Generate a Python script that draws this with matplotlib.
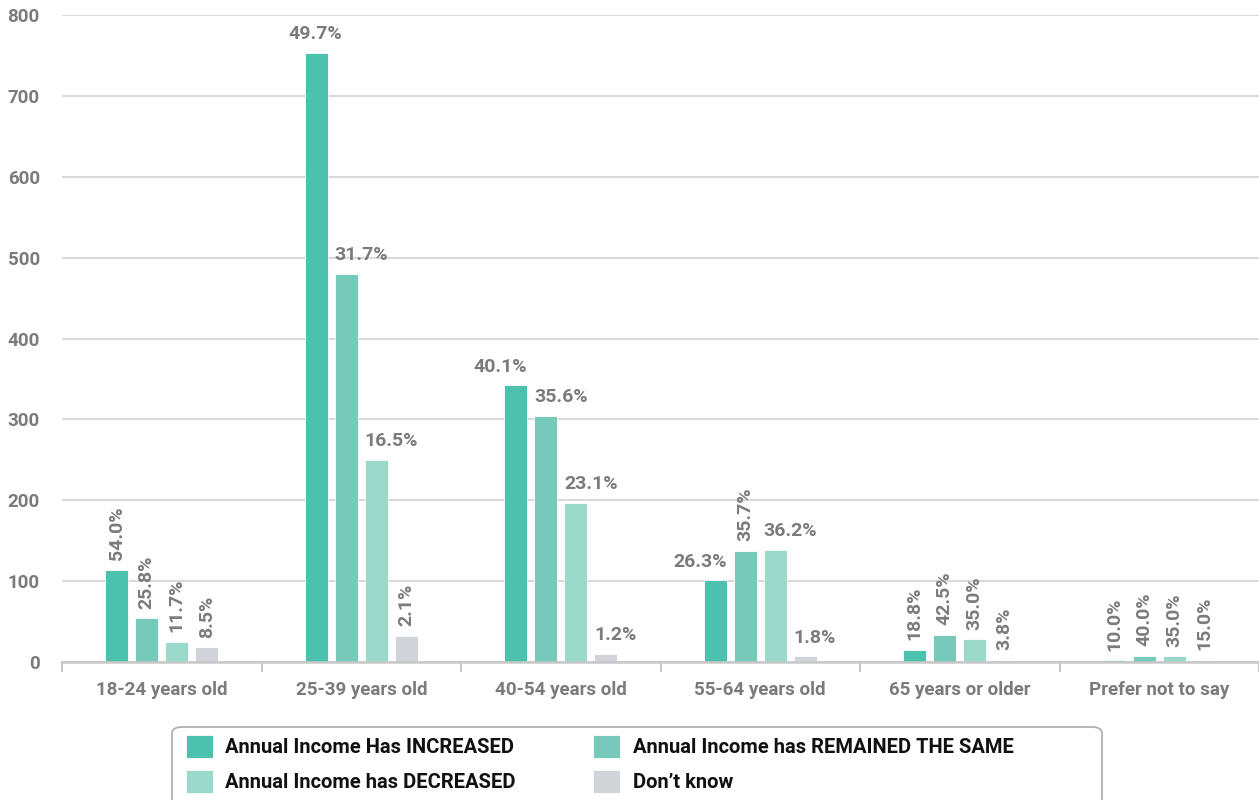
import matplotlib
matplotlib.use("Agg")
import matplotlib.pyplot as plt
from matplotlib.patches import FancyBboxPatch
import numpy as np

categories = ["18-24 years old", "25-39 years old", "40-54 years old",
              "55-64 years old", "65 years or older", "Prefer not to say"]
series_names = ["Annual Income Has INCREASED", "Annual Income has REMAINED THE SAME",
                "Annual Income has DECREASED", "Don\u2019t know"]
increased = [114, 753, 342, 101, 15, 2]
remained = [54, 480, 304, 137, 34, 8]
decreased = [25, 250, 197, 139, 28, 7]
dont_know = [18, 32, 10, 7, 3, 3]
pct_increased = ["54.0%", "49.7%", "40.1%", "26.3%", "18.8%", "10.0%"]
pct_remained = ["25.8%", "31.7%", "35.6%", "35.7%", "42.5%", "40.0%"]
pct_decreased = ["11.7%", "16.5%", "23.1%", "36.2%", "35.0%", "35.0%"]
pct_dont_know = ["8.5%", "2.1%", "1.2%", "1.8%", "3.8%", "15.0%"]
yticks = [0, 100, 200, 300, 400, 500, 600, 700, 800]

# label placement: 'v' = vertical, 'c' = centred, 'l' = left-aligned, 'r' = right-aligned
place_increased = ["v", "c", "r", "r", "v", "v"]
place_remained = ["v", "l", "l", "v", "v", "v"]
place_decreased = ["v", "l", "l", "l", "v", "v"]
place_dont_know = ["v", "v", "l", "l", "v", "v"]

colors = ["#4CC1AE", "#76CAB9", "#9BD9CA", "#D0D3D8"]
FONT = ["Liberation Sans Narrow", "Roboto", "DejaVu Sans"]
grey = "#7B7B7D"

fig = plt.figure(figsize=(12.59, 8), dpi=100)
ax = fig.add_axes([62/1259, 1-662/800, 1-62/1259, (662-15)/800])

values = [increased, remained, decreased, dont_know]
pcts = [pct_increased, pct_remained, pct_decreased, pct_dont_know]
places = [place_increased, place_remained, place_decreased, place_dont_know]
x = np.arange(len(categories))
step = 0.1505
width = 0.117
offsets = (np.arange(4) - 1.5) * step

bars = []
for i in range(4):
    b = ax.bar(x + offsets[i], values[i], width, color=colors[i], zorder=3,
               label=series_names[i], edgecolor="white", linewidth=0.6)
    bars.append(b)
    for j, rect in enumerate(b):
        h = rect.get_height()
        p = places[i][j]
        kw = dict(textcoords="offset points", fontsize=14, fontweight="bold",
                  color=grey, family=FONT, zorder=4, va="bottom")
        if p == "v":
            cx = rect.get_x() + rect.get_width()/2
            ax.annotate(pcts[i][j], (cx, h), xytext=(0, 7), rotation=90,
                        ha="center", **kw)
        elif p == "c":
            cx = rect.get_x() + rect.get_width()/2
            ax.annotate(pcts[i][j], (cx, h), xytext=(-1, 7), ha="center", **kw)
        elif p == "l":
            ax.annotate(pcts[i][j], (rect.get_x(), h), xytext=(0, 7), ha="left", **kw)
        else:
            ax.annotate(pcts[i][j], (rect.get_x() + rect.get_width(), h),
                        xytext=(0, 7), ha="right", **kw)

ax.set_xlim(-0.5, len(categories) - 0.5)
ax.set_ylim(0, 800)
ax.set_yticks(yticks)
ax.set_yticklabels([str(t) for t in yticks], fontsize=13.5, fontweight="bold",
                   color=grey, family=FONT)
ax.set_xticks(x)
ax.set_xticklabels(categories, fontsize=13.5, fontweight="bold", color=grey, family=FONT)
ax.set_xticks(np.arange(len(categories) + 1) - 0.5, minor=True)
ax.tick_params(axis="x", which="major", length=0, pad=14)
ax.tick_params(axis="x", which="minor", length=7, width=1.5, color="#C8C8C8")
ax.tick_params(axis="y", length=0, pad=16)
ax.grid(axis="y", color="#D9D9D9", linewidth=1.5, zorder=0)
for s in ["top", "right", "left"]:
    ax.spines[s].set_visible(False)
ax.spines["bottom"].set_color("#C8C8C8")
ax.spines["bottom"].set_linewidth(1.8)
ax.spines["bottom"].set_zorder(5)

# legend frame (extends beyond the bottom of the figure, as in the reference)
W, H = 1259, 800
frame = FancyBboxPatch((172/W, 1-815/H), (1102-172)/W, (815-727)/H,
                       boxstyle="round,pad=0,rounding_size=0.008",
                       transform=fig.transFigure, facecolor="white",
                       edgecolor="#AAAAAA", linewidth=1.2, zorder=0)
fig.patches.append(frame)

order = [0, 2, 1, 3]  # row-major filling
leg = fig.legend(handles=[bars[k] for k in order],
                 labels=[series_names[k] for k in order], ncol=2,
                 loc="upper left", bbox_to_anchor=(186/W, 1-735/H),
                 frameon=False, borderpad=0, borderaxespad=0,
                 handlelength=1.35, handleheight=1.35, handletextpad=0.6,
                 columnspacing=3.85, labelspacing=0.62,
                 prop={"family": FONT, "weight": "bold", "size": 14.5})
for t in leg.get_texts():
    t.set_color("#111111")

fig.savefig("out.png", dpi=100)
